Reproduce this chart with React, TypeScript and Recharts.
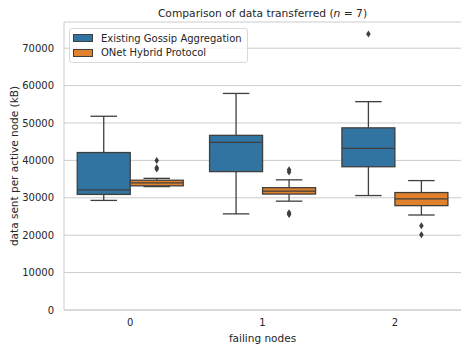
import React from "react";
import { ComposedChart, Bar, XAxis, YAxis, CartesianGrid, Legend } from "recharts";

const failingNodes = ["0", "1", "2"];
const yTicks = [0, 10000, 20000, 30000, 40000, 50000, 60000, 70000];

// Existing Gossip Aggregation
const gossipLow = [29300, 25700, 30600];
const gossipQ1 = [30900, 37000, 38300];
const gossipMedian = [32100, 44800, 43200];
const gossipQ3 = [42100, 46700, 48700];
const gossipHigh = [51800, 57900, 55700];
const gossipOutliers = [[], [], [73800]];

// ONet Hybrid Protocol
const onetLow = [33000, 29100, 25400];
const onetQ1 = [33200, 31000, 27900];
const onetMedian = [34000, 31800, 29700];
const onetQ3 = [34700, 32700, 31400];
const onetHigh = [35200, 34800, 34600];
const onetOutliers = [
  [37700, 38000, 40000],
  [25500, 26000, 36900, 37500],
  [20100, 22500],
];

const FONT = "'DejaVu Sans', sans-serif";
const TEXT = "#262626";
const GRID = "#cccccc";
const LINE = "#3f3f3f";
const BLUE = "#3274a1";
const ORANGE = "#e1812c";

const stats = (low: number[], q1: number[], med: number[], q3: number[], high: number[], out: number[][], i: number) => ({
  low: low[i],
  q1: q1[i],
  median: med[i],
  q3: q3[i],
  high: high[i],
  outliers: out[i],
});

const data = failingNodes.map((node, i) => {
  const gossip = stats(gossipLow, gossipQ1, gossipMedian, gossipQ3, gossipHigh, gossipOutliers, i);
  const onet = stats(onetLow, onetQ1, onetMedian, onetQ3, onetHigh, onetOutliers, i);
  return {
    node,
    gossip,
    onet,
    gossipRange: [Math.min(gossip.low, ...gossip.outliers), Math.max(gossip.high, ...gossip.outliers)],
    onetRange: [Math.min(onet.low, ...onet.outliers), Math.max(onet.high, ...onet.outliers)],
  };
});

// the bar spans the full range of the group, so its rect gives us the y scale
const makeBoxShape = (key: "gossip" | "onet", fill: string) => (props: any) => {
  const { x, y, width, height, payload } = props;
  const s = payload[key];
  const [lo, hi] = payload[key + "Range"];
  const yLo = y + height;
  const yHi = y;
  const py = (v: number) => yLo + ((v - lo) * (yHi - yLo)) / (hi - lo);
  const cx = x + width / 2;
  const cap = width / 4;
  return (
    <g>
      <line x1={cx} x2={cx} y1={py(s.high)} y2={py(s.q3)} stroke={LINE} strokeWidth={1.3} />
      <line x1={cx} x2={cx} y1={py(s.q1)} y2={py(s.low)} stroke={LINE} strokeWidth={1.3} />
      <line x1={cx - cap} x2={cx + cap} y1={py(s.high)} y2={py(s.high)} stroke={LINE} strokeWidth={1.3} />
      <line x1={cx - cap} x2={cx + cap} y1={py(s.low)} y2={py(s.low)} stroke={LINE} strokeWidth={1.3} />
      <rect
        x={x}
        y={py(s.q3)}
        width={width}
        height={py(s.q1) - py(s.q3)}
        fill={fill}
        stroke={LINE}
        strokeWidth={1.3}
      />
      <line x1={x} x2={x + width} y1={py(s.median)} y2={py(s.median)} stroke={LINE} strokeWidth={1.3} />
      {s.outliers.map((v: number, j: number) => {
        const oy = py(v);
        return (
          <polygon
            key={j}
            points={`${cx},${oy - 3.5} ${cx + 2.3},${oy} ${cx},${oy + 3.5} ${cx - 2.3},${oy}`}
            fill={LINE}
          />
        );
      })}
    </g>
  );
};

const renderLegend = (props: any) => (
  <div
    style={{
      border: "1px solid #d9d9d9",
      borderRadius: 3,
      background: "rgba(255,255,255,0.8)",
      padding: "2px 5px 2px 3px",
      fontSize: 10,
      color: TEXT,
      fontFamily: FONT,
      whiteSpace: "nowrap",
    }}
  >
    {(props.payload || []).map((e: any) => (
      <div key={e.value} style={{ display: "flex", alignItems: "center", height: 14.5 }}>
        <span
          style={{
            display: "inline-block",
            width: 20,
            height: 8,
            background: e.color,
            border: `1px solid ${LINE}`,
            boxSizing: "border-box",
            marginRight: 8,
          }}
        />
        {e.value}
      </div>
    ))}
  </div>
);

export default function App() {
  return (
    <div style={{ position: "absolute", left: 0, top: 0, width: 462, height: 350, background: "#fff", fontFamily: FONT }}>
      <div
        style={{
          position: "absolute",
          left: 64,
          width: 397,
          top: 7,
          textAlign: "center",
          fontSize: 10.7,
          color: TEXT,
          zIndex: 2,
        }}
      >
        Comparison of data transferred (<i>n</i> = 7)
      </div>
      <ComposedChart
        width={462}
        height={350}
        data={data}
        margin={{ top: 22, right: 1, bottom: 0, left: 0 }}
        barCategoryGap="10%"
        barGap={0}
      >
        <CartesianGrid vertical={false} stroke={GRID} strokeWidth={1} />
        <XAxis
          dataKey="node"
          tickLine={false}
          axisLine={{ stroke: GRID }}
          tickSize={0}
          tickMargin={9}
          tick={{ fontSize: 10, fill: TEXT, fontFamily: FONT }}
          height={40}
          label={{
            value: "failing nodes",
            position: "insideBottom",
            offset: 8,
            style: { fontSize: 10.5, fill: TEXT, fontFamily: FONT },
          }}
        />
        <YAxis
          type="number"
          domain={[0, 77000]}
          ticks={yTicks}
          width={64}
          tickLine={false}
          axisLine={{ stroke: GRID }}
          tickSize={0}
          tickMargin={10}
          tick={{ fontSize: 10, fill: TEXT, fontFamily: FONT }}
          label={{
            value: "data sent per active node (kB)",
            angle: -90,
            position: "insideLeft",
            offset: 14,
            style: { fontSize: 10.5, fill: TEXT, fontFamily: FONT, textAnchor: "middle" },
          }}
        />
        <Legend
          layout="vertical"
          align="center"
          verticalAlign="middle"
          wrapperStyle={{ top: 28, left: 69, width: "auto", height: "auto" }}
          content={renderLegend}
        />
        <Bar
          name="Existing Gossip Aggregation"
          dataKey="gossipRange"
          fill={BLUE}
          shape={makeBoxShape("gossip", BLUE)}
          isAnimationActive={false}
        />
        <Bar
          name="ONet Hybrid Protocol"
          dataKey="onetRange"
          fill={ORANGE}
          shape={makeBoxShape("onet", ORANGE)}
          isAnimationActive={false}
        />
      </ComposedChart>
    </div>
  );
}
